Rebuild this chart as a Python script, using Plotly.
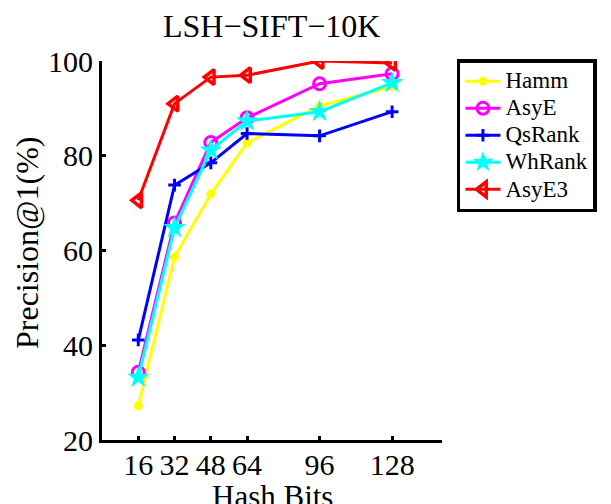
import plotly.graph_objects as go

# Hash code lengths on the x axis
hash_bits = [16, 32, 48, 64, 96, 128]

# Precision@1 (%) for each ranking method
hamm = [27.2, 58.6, 71.9, 82.7, 90.5, 94.6]
asye = [34.3, 65.8, 82.8, 88.0, 95.2, 97.3]
qsrank = [41.1, 73.8, 78.5, 84.7, 84.2, 89.3]
whrank = [33.2, 64.8, 81.2, 87.3, 89.3, 95.4]
asye3 = [70.6, 91.0, 96.6, 97.0, 100.0, 99.6]

y_ticks = [20, 40, 60, 80, 100]

FONT = "Liberation Serif"

series = [
    ("Hamm", hamm, "#ffff00", "circle", 9, 0),
    ("AsyE", asye, "#ff00ff", "circle-open", 12, 3),
    ("QsRank", qsrank, "#0000ff", "cross-thin", 9, 3),
    ("WhRank", whrank, "#00ffff", "star", 17, 0),
    ("AsyE3", asye3, "#ff0000", "triangle-left-open", 13, 3.5),
]

fig = go.Figure()
for name, vals, color, symbol, size, lw in series:
    fig.add_trace(go.Scatter(
        x=hash_bits, y=vals, mode="lines+markers",
        # larger label text inside a compact legend row
        name=f"<span style='font-size:23px'>{name}</span>",
        line=dict(color=color, width=3),
        marker=dict(symbol=symbol, size=size, color=color,
                    line=dict(color=color, width=lw)),
    ))

fig.update_layout(
    width=611, height=504,
    margin=dict(l=102, r=169, t=61, b=64),
    paper_bgcolor="white", plot_bgcolor="white",
    font=dict(family=FONT, color="black"),
    showlegend=True,
    legend=dict(
        x=1.044, y=1.005, xanchor="left", yanchor="top",
        bgcolor="white", bordercolor="black", borderwidth=3.5,
        font=dict(family=FONT, size=18.5, color="black"),
        tracegroupgap=0, itemwidth=35,
    ),
    xaxis=dict(
        range=[0, 150], tickvals=hash_bits, ticktext=[str(v) for v in hash_bits],
        showgrid=False, zeroline=False, showline=True, linecolor="black", linewidth=3,
        ticks="inside", ticklen=4, tickwidth=3, tickcolor="black",
        tickfont=dict(family=FONT, size=30, color="black"),
        ticklabelstandoff=-4,
    ),
    yaxis=dict(
        range=[20, 100], tickvals=y_ticks,
        showgrid=False, zeroline=False, showline=True, linecolor="black", linewidth=3,
        ticks="inside", ticklen=4, tickwidth=3, tickcolor="black",
        tickfont=dict(family=FONT, size=30, color="black"),
    ),
    annotations=[
        dict(text="LSH\u2212SIFT\u221210K", xref="paper", yref="paper",
             x=(271 - 102) / 340, y=1.0 + 35 / 379, xanchor="center", yanchor="middle",
             showarrow=False, font=dict(family=FONT, size=32, color="black")),
        dict(text="Hash Bits", xref="paper", yref="paper",
             x=(272 - 102) / 340, y=-(496 - 440) / 379, xanchor="center", yanchor="middle",
             showarrow=False, font=dict(family=FONT, size=31, color="black")),
        dict(text="Precision@1(%)", xref="paper", yref="paper",
             x=-(102 - 27) / 340, y=(440 - 243) / 379, xanchor="center", yanchor="middle",
             textangle=-90, showarrow=False, font=dict(family=FONT, size=32, color="black")),
    ],
)

fig.write_html("out.html")
